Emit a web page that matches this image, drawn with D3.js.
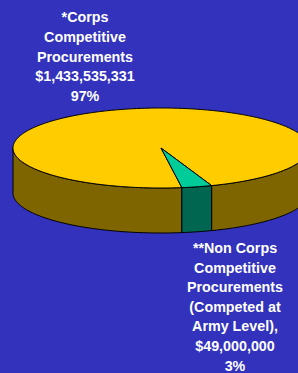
<!DOCTYPE html>
<html><head><meta charset="utf-8">
<script src="https://cdn.jsdelivr.net/npm/d3@7"></script>
<style>html,body{margin:0;padding:0;background:#3232bc;}svg{display:block;}</style>
</head><body>
<script>
const categories = ["*Corps Competitive Procurements", "**Non Corps Competitive Procurements (Competed at Army Level)"];
const values = [1433535331, 49000000];
const percents = ["97%", "3%"];
const labelLinesCorps = ["*Corps", "Competitive", "Procurements", "$1,433,535,331", "97%"];
const labelLinesNon = ["**Non Corps", "Competitive", "Procurements", "(Competed at", "Army Level),", "$49,000,000", "3%"];

const W = 298, H = 373;
const cx = 161, cy = 148, rx = 148, ry = 40, depth = 45;
const topColors = ["#ffcc00", "#00cc99"];
const sideColors = ["#7f6500", "#006650"];

const svg = d3.select("body").append("svg").attr("width", W).attr("height", H);
svg.append("rect").attr("width", W).attr("height", H).attr("fill", "#3232bc");

const xS = d3.scaleLinear().domain([-1, 1]).range([cx - rx, cx + rx]);
const yS = d3.scaleLinear().domain([-1, 1]).range([cy - ry, cy + ry]);
const deg = Math.PI / 180;
const pie = d3.pie().sort(null).startAngle(-188.1 * deg).endAngle(171.9 * deg);
const arcs = pie(values);

const px = a => xS(Math.sin(a));
const py = (a, dz) => yS(-Math.cos(a)) + (dz || 0);
const line = d3.line();

function sample(a0, a1, dz) {
  const n = Math.max(2, Math.ceil(Math.abs(a1 - a0) / (1 * deg)));
  const pts = [];
  for (let i = 0; i <= n; i++) {
    const a = a0 + (a1 - a0) * i / n;
    pts.push([px(a), py(a, dz)]);
  }
  return pts;
}

// side walls (front half only)
const g = svg.append("g");
arcs.forEach((d, i) => {
  for (let k = -1; k <= 2; k++) {
    const lo = Math.PI / 2 + 2 * Math.PI * k, hi = 3 * Math.PI / 2 + 2 * Math.PI * k;
    const s = Math.max(d.startAngle, lo), e = Math.min(d.endAngle, hi);
    if (e > s) {
      const pts = sample(s, e, 0).concat(sample(e, s, depth));
      g.append("path").attr("d", line(pts) + "Z")
        .attr("fill", sideColors[i]).attr("stroke", "#000").attr("stroke-width", 1)
        .attr("stroke-linejoin", "round");
    }
  }
});
// top faces
arcs.forEach((d, i) => {
  const pts = [[cx, cy]].concat(sample(d.startAngle, d.endAngle, 0));
  g.append("path").attr("d", line(pts) + "Z")
    .attr("fill", topColors[i]).attr("stroke", "#000").attr("stroke-width", 1)
    .attr("stroke-linejoin", "round");
});

function label(lines, x, y0, dy) {
  const t = svg.append("text").attr("text-anchor", "middle")
    .attr("font-family", "'Liberation Sans', Arial, sans-serif")
    .attr("font-weight", "bold").attr("font-size", "14.3px").attr("fill", "#fff");
  lines.forEach((l, j) => t.append("tspan").attr("x", x).attr("y", y0 + j * dy).text(l));
}
label(labelLinesCorps, 85, 22, 19.8);
label(labelLinesNon, 235, 253, 19.6);
</script>
</body></html>
